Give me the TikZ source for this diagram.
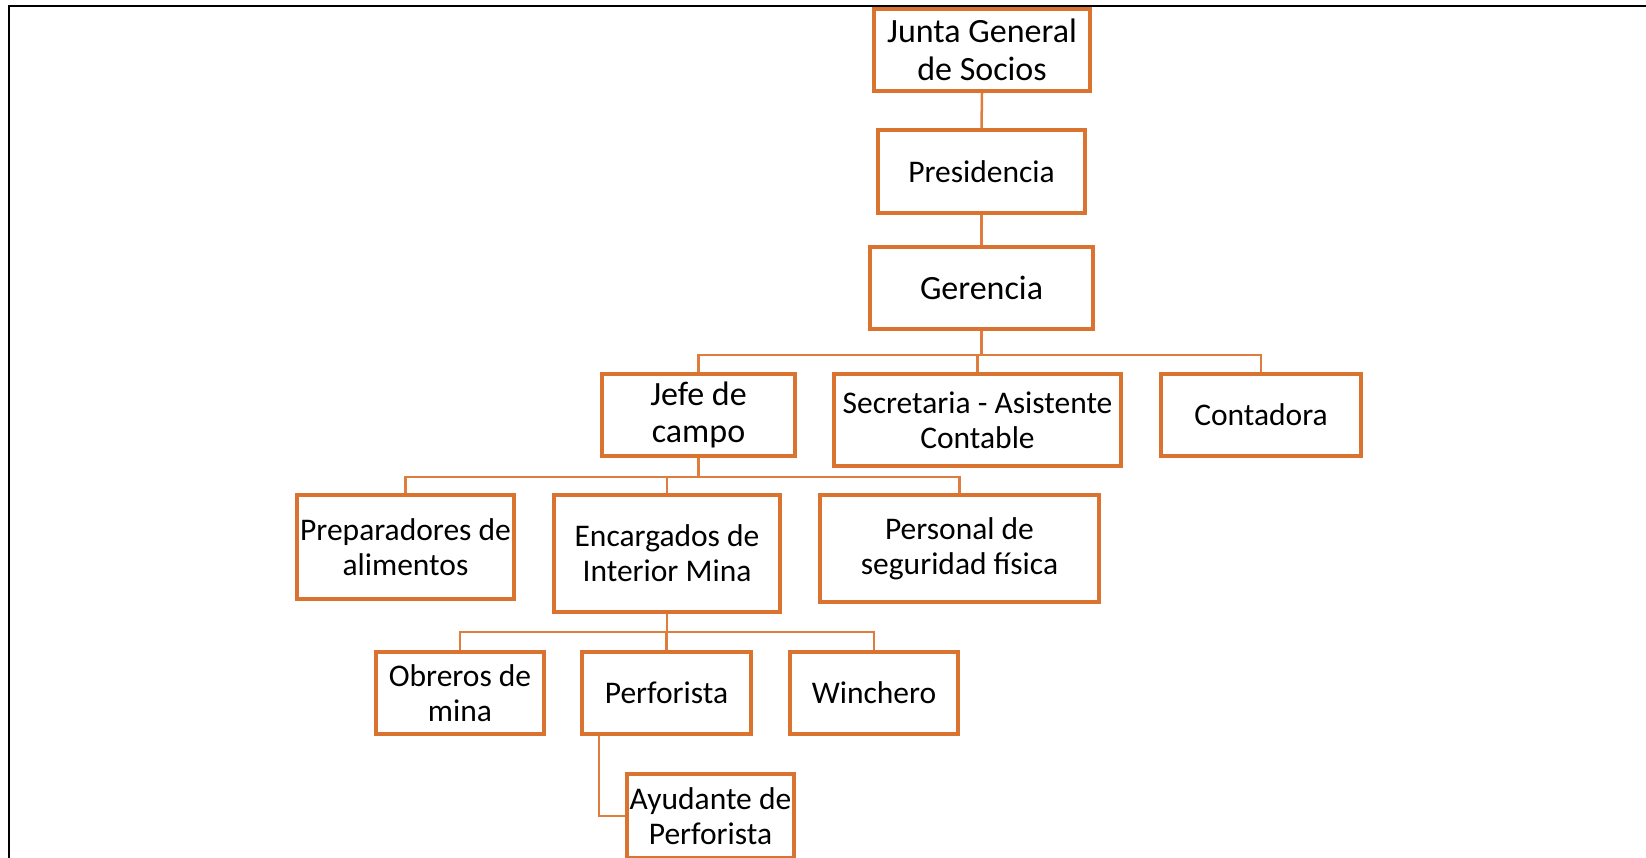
\documentclass[tikz,border=0pt]{standalone}
\usepackage{fontspec}
\setmainfont{Carlito}
\definecolor{org}{RGB}{218,114,48}
\definecolor{orgl}{RGB}{222,125,62}
\tikzset{
  box/.style={draw=org, line width=4pt, fill=white, align=center, inner sep=0pt, text=black},
  fbig/.style={font=\fontsize{34}{37.5}\selectfont},
  fnorm/.style={font=\fontsize{31.5}{35}\selectfont},
  conn/.style={draw=orgl, line width=2.5pt},
  frame/.style={draw=black, line width=2.5pt}
}
\begin{document}
\begin{tikzpicture}[x=1pt,y=-1pt]
\useasboundingbox (0,0) rectangle (1646,857);
\clip (0,0) rectangle (1646,857);
\draw[frame] (9,880) -- (9,6) -- (1670,6);

\node[box,fbig,minimum width=216pt,minimum height=82pt] (junta) at (982,50) {Junta General\\de Socios};
\node[box,fnorm,minimum width=207pt,minimum height=83pt] (pres) at (981.5,171.5) {Presidencia};
\node[box,fbig,minimum width=223pt,minimum height=82pt] (ger) at (981.5,288) {Gerencia};

\node[box,fbig,minimum width=193pt,minimum height=82pt] (jefe) at (698.5,415) {Jefe de\\campo};
\node[box,fnorm,minimum width=287pt,minimum height=92pt] (sec) at (977.5,420) {Secretaria - Asistente\\Contable};
\node[box,fnorm,minimum width=200pt,minimum height=82pt] (cont) at (1261,415) {Contadora};

\node[box,fnorm,minimum width=217pt,minimum height=104pt] (prep) at (405.5,547) {Preparadores de\\alimentos};
\node[box,fnorm,minimum width=226pt,minimum height=117pt] (enc) at (667,553.5) {Encargados de\\Interior Mina};
\node[box,fnorm,minimum width=279pt,minimum height=107pt] (pers) at (959.5,548.5) {Personal de\\seguridad física};

\node[box,fnorm,minimum width=168pt,minimum height=82pt] (obr) at (460,693) {Obreros de\\mina};
\node[box,fnorm,minimum width=169pt,minimum height=82pt] (perf) at (666.5,693) {Perforista};
\node[box,fnorm,minimum width=168pt,minimum height=82pt] (winch) at (874,693) {Winchero};
\node[box,fnorm,minimum width=167pt,minimum height=84pt] (ayu) at (710.5,816) {Ayudante de\\Perforista};

\coordinate (b1) at (981.5,355);
\coordinate (b2) at (698.5,477);
\coordinate (b3) at (667,632);
\coordinate (pk) at (599,736);

\draw[conn] (junta.south) -- (pres.north);
\draw[conn] (pres.south) -- (ger.north);
\draw[conn] (ger.south) -- (b1);
\draw[conn] (jefe.north) |- (b1) -| (cont.north);
\draw[conn] (sec.north) -- (sec.north |- b1);

\draw[conn] (jefe.south) -- (b2);
\draw[conn] (prep.north) |- (b2) -| (pers.north);
\draw[conn] (enc.north) -- (enc.north |- b2);

\draw[conn] (enc.south) -- (b3);
\draw[conn] (obr.north) |- (b3) -| (winch.north);
\draw[conn] (perf.north) -- (perf.north |- b3);

\draw[conn] (pk |- perf.south) |- (ayu.west);
\end{tikzpicture}
\end{document}
